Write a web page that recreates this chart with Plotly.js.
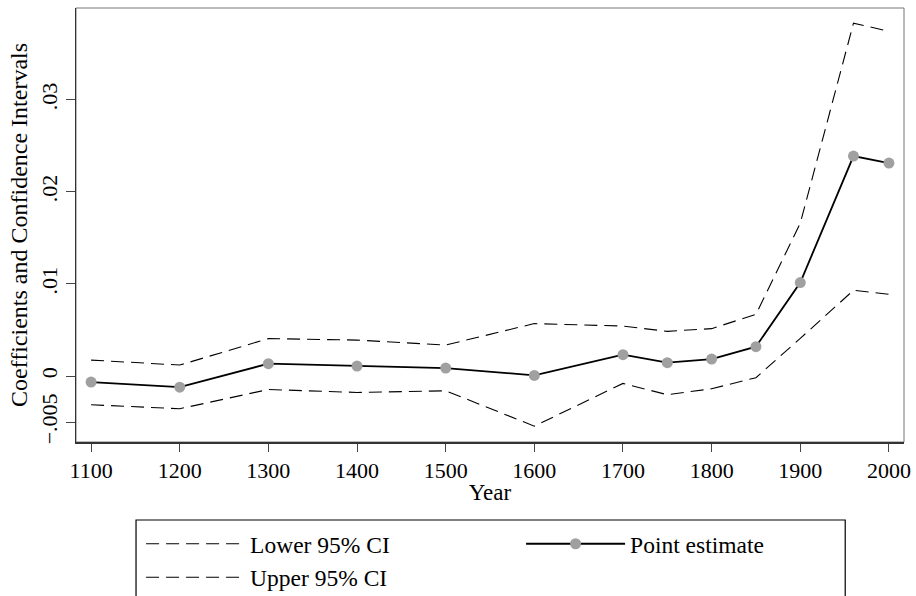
<!DOCTYPE html>
<html>
<head>
<meta charset="utf-8">
<script src="https://cdn.plot.ly/plotly-3.0.1.min.js"></script>
<style>
  html, body { margin: 0; padding: 0; background: #fff; }
  #chart { width: 916px; height: 596px; }
</style>
</head>
<body>
<div id="chart"></div>
<script>
// Data
const years = [1100, 1200, 1300, 1400, 1500, 1600, 1700, 1750, 1800, 1850, 1900, 1960, 2000];
const pointEstimate = [-0.00065, -0.0012, 0.00135, 0.00109, 0.00087, 0.00008, 0.00233, 0.00146, 0.00185, 0.0032, 0.01015, 0.02388, 0.02312];
const upperCI = [0.00174, 0.0012, 0.00407, 0.00391, 0.00337, 0.0057, 0.00543, 0.00486, 0.00515, 0.00671, 0.0166, 0.0383, 0.03743];
const lowerCI = [-0.00311, -0.00354, -0.00145, -0.00177, -0.00159, -0.00543, -0.00079, -0.00202, -0.00137, -0.00017, 0.0041, 0.00931, 0.00888];
const xTickVals = [1100, 1200, 1300, 1400, 1500, 1600, 1700, 1800, 1900, 2000];
const yTickVals = [-0.005, 0, 0.01, 0.02, 0.03];
const yTickText = ['\u2212.005', '0', '.01', '.02', '.03'];

const serif = 'Liberation Serif';

const traces = [
  {
    x: years, y: lowerCI, name: 'Lower 95% CI', type: 'scatter', mode: 'lines',
    line: { color: '#000', width: 1.1, dash: '13px,7px' }
  },
  {
    x: years, y: pointEstimate, name: 'Point estimate', type: 'scatter', mode: 'lines+markers',
    line: { color: '#000', width: 1.8 },
    marker: { color: '#a0a0a0', size: 11 }
  },
  {
    x: years, y: upperCI, name: 'Upper 95% CI', type: 'scatter', mode: 'lines',
    line: { color: '#000', width: 1.1, dash: '13px,7px' }
  }
];

const layout = {
  width: 916, height: 596,
  margin: { l: 76, r: 12, t: 8, b: 154, autoexpand: false },
  paper_bgcolor: '#fff', plot_bgcolor: '#fff',
  font: { family: serif, color: '#000', size: 22 },
  showlegend: true,
  xaxis: {
    range: [1083, 2017],
    tickvals: xTickVals,
    ticktext: xTickVals.map(String),
    ticks: 'outside', ticklen: 8, tickcolor: '#444', tickwidth: 1,
    showgrid: false, zeroline: false,
    showline: true, linecolor: '#333', linewidth: 1.5,
    tickfont: { family: serif, size: 22, color: '#000' },
    title: { text: 'Year', font: { family: serif, size: 23, color: '#000' }, standoff: 2 }
  },
  yaxis: {
    range: [-0.00715, 0.03995],
    tickvals: yTickVals,
    ticktext: yTickText,
    tickangle: -90,
    ticks: 'outside', ticklen: 9, tickcolor: '#444', tickwidth: 1,
    showgrid: false, zeroline: false,
    showline: true, linecolor: '#333', linewidth: 1.5,
    tickfont: { family: serif, size: 22, color: '#000' },
    title: { text: 'Coefficients and Confidence Intervals', font: { family: serif, size: 24, color: '#000' }, standoff: 2 }
  },
  legend: {
    orientation: 'h',
    x: 0.0786, xanchor: 'left',
    y: -0.1843, yanchor: 'top',
    itemwidth: 99,
    entrywidth: 266,
    bgcolor: 'rgba(0,0,0,0)',
    borderwidth: 0,
    font: { family: serif, size: 23.5, color: '#000' },
    traceorder: 'normal'
  },
  shapes: [
    { type: 'rect', xref: 'paper', yref: 'paper', x0: 0, x1: 1, y0: 0, y1: 1,
      line: { color: '#777', width: 1 }, layer: 'below' },
    { type: 'rect', xref: 'paper', yref: 'paper', x0: 0.0725, x1: 0.929, y0: -0.1797, y1: -0.40,
      line: { color: '#000', width: 1.2 }, fillcolor: 'rgba(0,0,0,0)', layer: 'above' }
  ]
};

Plotly.newPlot('chart', traces, layout, { displayModeBar: false, staticPlot: true });
</script>
</body>
</html>
